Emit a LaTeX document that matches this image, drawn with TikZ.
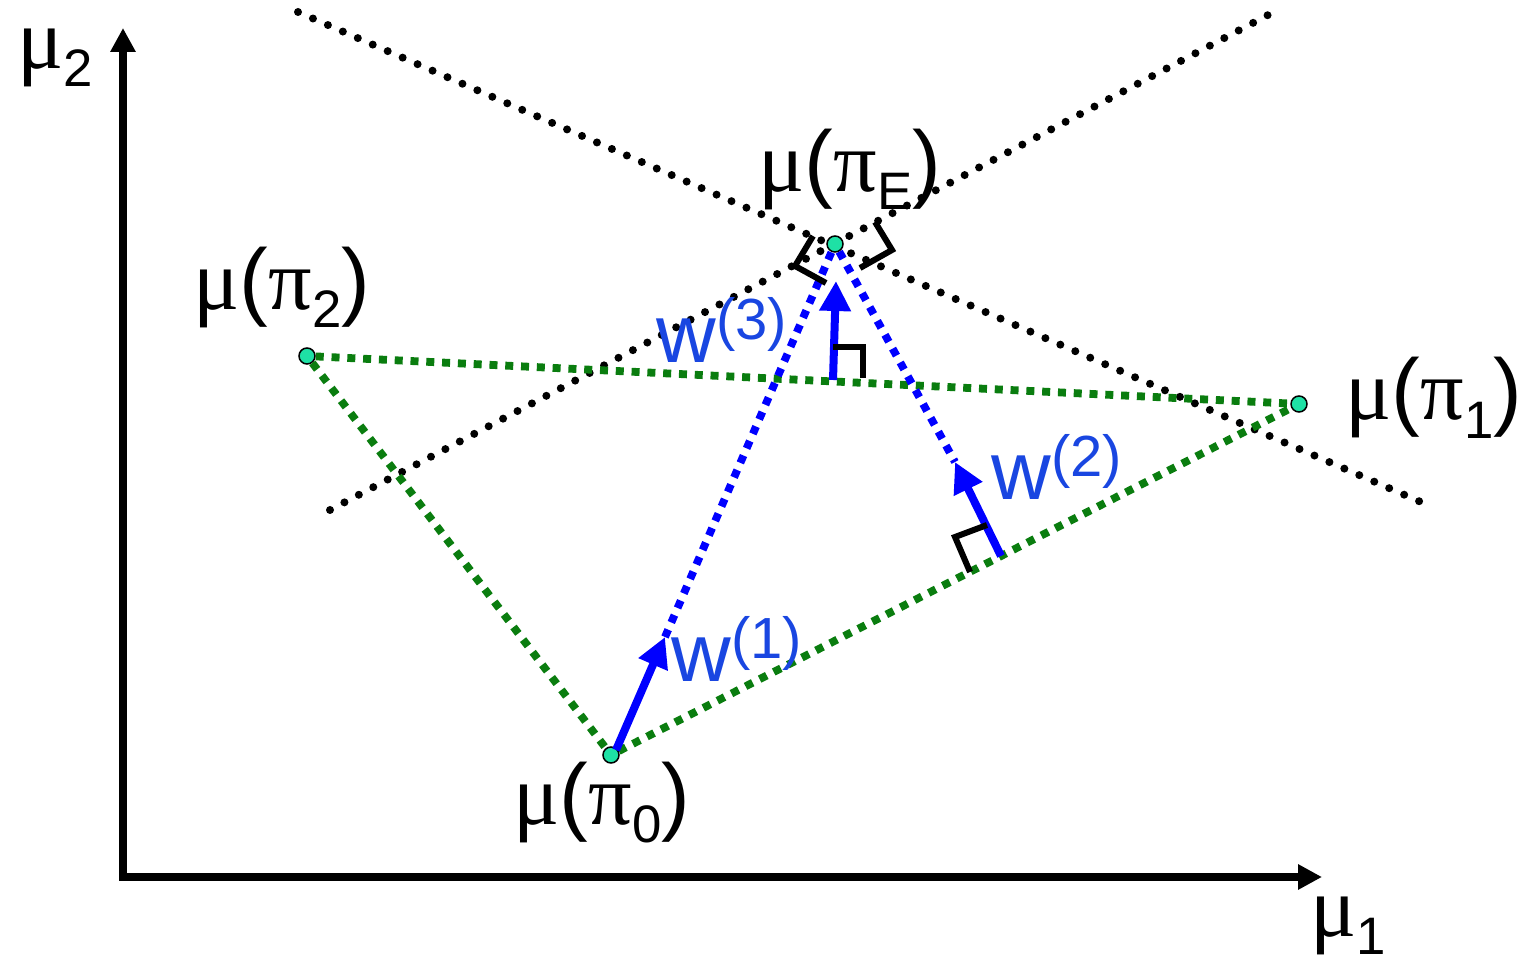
\documentclass[tikz,border=0pt]{standalone}
\usepackage{fontspec}
\setmainfont{Liberation Sans}
\newfontfamily\grk{Liberation Serif}
\usetikzlibrary{arrows.meta}
\definecolor{dgreen}{RGB}{10,125,15}
\definecolor{wblue}{RGB}{25,70,225}
\definecolor{ptfill}{RGB}{30,225,165}
\newcommand{\bigf}{\fontsize{24.5pt}{29pt}\selectfont}
\newcommand{\wf}{\fontsize{23.5pt}{28pt}\selectfont}
\newcommand{\subf}{\fontsize{15pt}{15pt}\selectfont}
\newcommand{\supf}{\fontsize{16.5pt}{16.5pt}\selectfont}
\newcommand{\mupi}[1]{{\grk μ}({\grk π}\raisebox{-0.18cm}{\subf #1})}
\newcommand{\muax}[1]{{\grk μ}\raisebox{-0.18cm}{\subf #1}}
\newcommand{\wlab}[1]{w\raisebox{0.23cm}{\supf(#1)}}
\begin{document}
\begin{tikzpicture}[x=0.01cm,y=-0.01cm,
  blackdot/.style={line width=0.08cm, dash pattern=on 0pt off 0.163cm, line cap=round},
  greendash/.style={dgreen, line width=0.078cm, dash pattern=on 0.08cm off 0.078cm},
  bluedash/.style={blue, line width=0.078cm, dash pattern=on 0.08cm off 0.078cm},
  warrow/.style={blue, line width=0.08cm, -{Triangle[length=0.3cm,width=0.3cm]}},
  axis/.style={line width=0.08cm, line join=miter, {Triangle[length=0.24cm,width=0.24cm]}-{Triangle[length=0.24cm,width=0.24cm]}},
  rmark/.style={line width=0.06cm, line join=miter},
  pt/.style={circle, draw=black, line width=0.015cm, fill=ptfill, minimum size=0.16cm, inner sep=0pt},
  lab/.style={anchor=base west, inner sep=0pt, font=\bigf},
  wl/.style={anchor=base west, inner sep=0pt, font=\wf, text=wblue}]
\useasboundingbox (0,0) rectangle (1531,962);

% axes
\coordinate (O) at (123,877);
\coordinate (ytop) at (123,28);
\coordinate (xend) at (1322,877);
\draw[axis] (ytop) -- (O) -- (xend);
\node[lab] (m2) at (17,69) {\muax{2}};
\node[lab] (m1) at (1310,936) {\muax{1}};

% black dotted hyperplanes
\coordinate (a1) at (298,12);
\coordinate (a2) at (1430,506);
\coordinate (b1) at (330,510);
\coordinate (b2) at (1268,15);
\draw[blackdot] (a1) -- (a2);
\draw[blackdot] (b1) -- (b2);

% points
\node[pt] (p0) at (611,755) {};
\node[pt] (p1) at (1299,404) {};
\node[pt] (p2) at (307,356) {};
\node[pt] (pE) at (835,244) {};

% green polygon
\draw[greendash] (p2) -- (p1);
\draw[greendash] (p2) -- (p0);
\draw[greendash] (p0) -- (p1);

% w vectors
\coordinate (f1) at (616,750);
\coordinate (t1) at (665,637);
\coordinate (f2) at (1001,556);
\coordinate (t2) at (955,462);
\coordinate (f3) at (833,380);
\coordinate (t3) at (836,281);
\draw[bluedash] (t1) -- (pE);
\draw[bluedash] (pE) -- (t2);
\draw[warrow] (f1) -- (t1);
\draw[warrow] (f2) -- (t2);
\draw[warrow] (f3) -- (t3);

% right-angle marks
\draw[rmark] (813,236) -- (795,266) -- (826,283);
\draw[rmark] (875,222) -- (892,250) -- (860,268);
\draw[rmark] (833,347) -- (863,347) -- (863,378);
\draw[rmark] (987,525) -- (955,537) -- (970,572);

% labels
\node[lab] (l2) at (193,310) {\mupi{2}};
\node[lab] (l1) at (1345,420) {\mupi{1}};
\node[lab] (lE) at (758,192) {\mupi{E}};
\node[lab] (l0) at (513,824) {\mupi{0}};
\node[wl] (w3) at (656,363) {\wlab{3}};
\node[wl] (w1) at (671,682) {\wlab{1}};
\node[wl] (w2) at (991,500) {\wlab{2}};
\end{tikzpicture}
\end{document}
